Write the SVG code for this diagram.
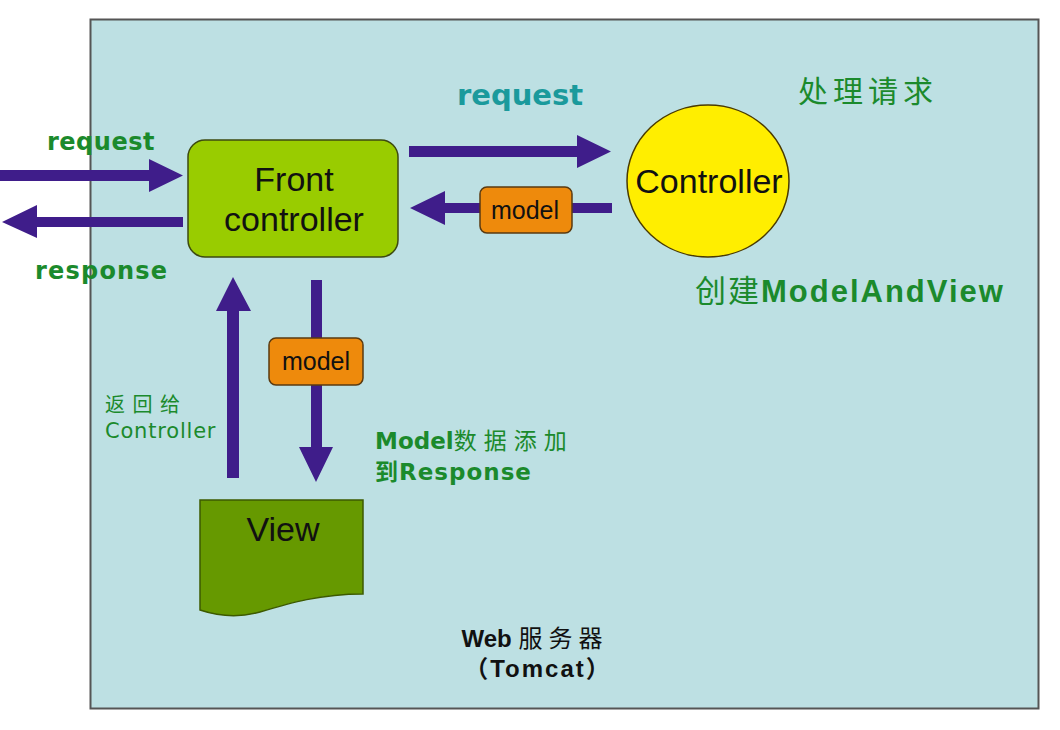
<svg xmlns="http://www.w3.org/2000/svg" width="1060" height="730" viewBox="0 0 1060 730">
<style>
.arrow{fill:#3f1d8a}
.lbl{font-family:"DejaVu Sans","Noto Sans CJK SC",sans-serif;fill:#1b8a2c}
.lbs{font-family:"Liberation Sans","Noto Sans CJK SC",sans-serif;fill:#1b8a2c}
.b{font-weight:bold}
.node{font-family:"Liberation Sans",sans-serif;fill:#111;text-anchor:middle}
.model{fill:#ee8a0c;stroke:#5a3a10;stroke-width:1.5}
</style>
<rect x="0" y="0" width="1060" height="730" fill="#ffffff"/>
<g id="server">
<rect x="90.5" y="19.5" width="948" height="689" fill="#bde0e3" stroke="#555" stroke-width="2"/>
<text x="535" y="647" text-anchor="middle" font-family="Liberation Sans,Noto Sans CJK SC,sans-serif" font-size="24" font-weight="bold" fill="#111">Web <tspan font-weight="normal" letter-spacing="6">服务器</tspan></text>
<text x="538" y="677" text-anchor="middle" font-family="Liberation Sans,Noto Sans CJK SC,sans-serif" font-size="24" font-weight="bold" fill="#111" letter-spacing="2">（Tomcat）</text>
</g>
<g id="connectors">
<polygon class="arrow" points="0,170 149,170 149,159 183,175.5 149,192 149,181 0,181"/>
<polygon class="arrow" points="183,217 37,217 37,205 2,222 37,238 37,227 183,227"/>
<polygon class="arrow" points="409,146 577,146 577,135 611,151.5 577,168 577,157 409,157"/>
<polygon class="arrow" points="612,203 445,203 445,191 410,208 445,225 445,213 612,213"/>
<polygon class="arrow" points="227,478 227,311 216,311 233,277 251,311 239,311 239,478"/>
<polygon class="arrow" points="311,280 311,447 299,447 316,482 333,447 322,447 322,280"/>
</g>
<g id="labels">
<text class="lbl b" x="47" y="150" font-size="24" letter-spacing="0.5">request</text>
<text class="lbl b" x="35" y="279" font-size="24" letter-spacing="1.2">response</text>
<text x="457" y="105" font-family="DejaVu Sans,sans-serif" font-size="29" font-weight="bold" fill="#1a9a9c">request</text>
<text class="lbl" x="798" y="102" font-size="30" letter-spacing="5">处理请求</text>
<text class="lbs" x="695" y="302" font-size="31" letter-spacing="2">创建<tspan font-weight="bold">ModelAndView</tspan></text>
<text class="lbl" x="105" y="412" font-size="20" letter-spacing="7.5">返回给</text>
<text class="lbl" x="105" y="438" font-size="21" letter-spacing="0.8">Controller</text>
<text class="lbl b" x="375" y="449" font-size="23">Model<tspan font-weight="normal" letter-spacing="7">数据添加</tspan></text>
<text class="lbl b" x="375" y="480" font-size="23" letter-spacing="1">到Response</text>
</g>
<g id="front-controller">
<rect x="188" y="140" width="210" height="117" rx="17" fill="#99cc00" stroke="#3d4a10" stroke-width="1.5"/>
<text class="node" x="294" y="191" font-size="34">Front</text>
<text class="node" x="294" y="231" font-size="34">controller</text>
</g>
<g id="controller">
<ellipse cx="708" cy="181" rx="81" ry="76" fill="#ffee00" stroke="#4a3a00" stroke-width="1.5"/>
<text class="node" x="709" y="193" font-size="34">Controller</text>
</g>
<g id="model-1">
<rect class="model" x="480" y="187" width="92" height="46" rx="7"/>
<text class="node" x="525" y="219" font-size="25">model</text>
</g>
<g id="model-2">
<rect class="model" x="269" y="338" width="94" height="47" rx="7"/>
<text class="node" x="316" y="370" font-size="25">model</text>
</g>
<g id="view">
<path d="M200,500 H363 V594 C320,594 290,603 260,612 C235,619 215,615 200,610 Z" fill="#669900" stroke="#3d5a00" stroke-width="1.5"/>
<text class="node" x="283" y="541" font-size="34">View</text>
</g>
</svg>
